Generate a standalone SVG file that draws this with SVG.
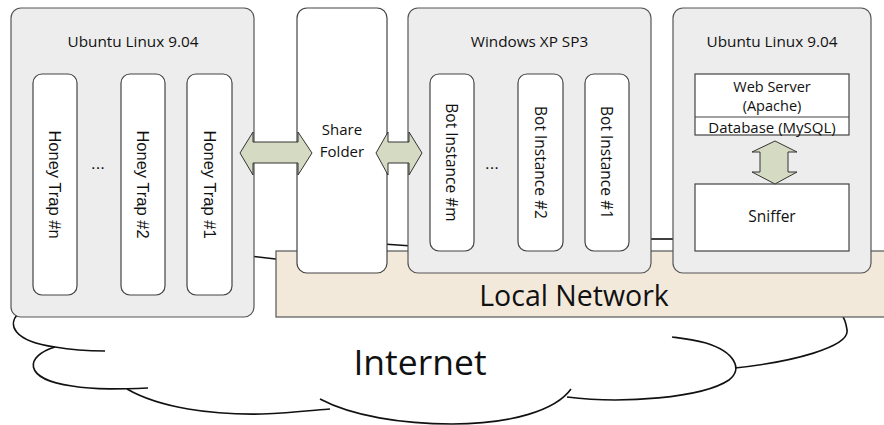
<svg xmlns="http://www.w3.org/2000/svg" width="884" height="425" viewBox="0 0 884 425">
<style>
.box{fill:#ededed;stroke:#555;stroke-width:1.2}
.pill{fill:#fff;stroke:#444;stroke-width:1.2}
.wbox{fill:#fff;stroke:#444;stroke-width:1.2}
.cloud{fill:none;stroke:#111;stroke-width:1.6}
.arrow{fill:#d5dac2;stroke:#333;stroke-width:1}
.t{font-family:"Open Sans","Noto Sans",sans-serif;fill:#111;text-anchor:middle}
.ht{font-family:"Liberation Sans",Arial,sans-serif;fill:#111;text-anchor:middle;font-size:16.5px}
.title{font-size:15.3px}
.bot{font-size:15.5px}
</style>
<rect width="884" height="425" fill="#fff"/>
<g id="internet">
<g class="cloud">
<path d="M18,314 C8,324 12,341 55,347 C72,350 90,351 105,351"/>
<path d="M55,347 C25,356 22,379 72,386 C96,390 122,389 148,388"/>
<path d="M127,389 C160,408 212,415 262,414 C292,413 316,410 330,409"/>
<path d="M320,399 C352,416 402,424 452,424 C512,424 556,410 571,389"/>
<path d="M567,397 C622,404 702,398 729,380 C743,369 735,352 706,343 C691,339 680,338 672,337"/>
<path d="M735,368 C792,362 850,347 847,330 C846,323 845,320 843,317"/>
<path d="M250,256 L280,259.5"/>
<path d="M383,244 L412,246"/>
<path d="M647,239 L677,239"/>
</g>
<text class="t" x="420" y="375" font-size="35.5">Internet</text>
</g>
<g id="local-network">
<rect x="276" y="251" width="620" height="66" fill="#f3e9db" stroke="#555" stroke-width="1.2"/>
<text class="t" x="574" y="306" font-size="28.5">Local Network</text>
</g>
<g id="ubuntu-left">
<rect class="box" x="11" y="8" width="243" height="309" rx="10"/>
<text class="t title" x="133" y="47">Ubuntu Linux 9.04</text>
<g id="honey-n">
<rect class="pill" x="33" y="74" width="44" height="221" rx="9"/>
<text class="ht" transform="translate(55,184.5) rotate(90)" dominant-baseline="central">Honey Trap #n</text>
</g>
<text class="ht" x="98" y="169" font-size="12">...</text>
<g id="honey-2">
<rect class="pill" x="121" y="74" width="44" height="221" rx="9"/>
<text class="ht" transform="translate(143,184.5) rotate(90)" dominant-baseline="central">Honey Trap #2</text>
</g>
<g id="honey-1">
<rect class="pill" x="187" y="74" width="45" height="221" rx="9"/>
<text class="ht" transform="translate(209.5,184.5) rotate(90)" dominant-baseline="central">Honey Trap #1</text>
</g>
</g>
<g id="share-folder">
<rect class="pill" x="297" y="8" width="90" height="265" rx="10"/>
<text class="t" x="342" y="135" font-size="15">Share</text>
<text class="t" x="342" y="157" font-size="15">Folder</text>
</g>
<g id="windows">
<rect class="box" x="408" y="8" width="243" height="265" rx="10"/>
<text class="t title" x="529.5" y="47">Windows XP SP3</text>
<g id="bot-m">
<rect class="pill" x="430" y="74" width="44" height="177" rx="9"/>
<text class="t bot" transform="translate(452,162.5) rotate(90)" dominant-baseline="central">Bot Instance #m</text>
</g>
<text class="ht" x="492" y="169" font-size="12">...</text>
<g id="bot-2">
<rect class="pill" x="518" y="74" width="45" height="177" rx="9"/>
<text class="t bot" transform="translate(540.5,162.5) rotate(90)" dominant-baseline="central">Bot Instance #2</text>
</g>
<g id="bot-1">
<rect class="pill" x="585" y="74" width="44" height="177" rx="9"/>
<text class="t bot" transform="translate(607,162.5) rotate(90)" dominant-baseline="central">Bot Instance #1</text>
</g>
</g>
<g id="ubuntu-right">
<rect class="box" x="673" y="8" width="198" height="265" rx="10"/>
<text class="t title" x="772" y="47">Ubuntu Linux 9.04</text>
<g id="web-server">
<rect class="wbox" x="695" y="74" width="154" height="61"/>
<line x1="695" y1="117" x2="849" y2="117" stroke="#444" stroke-width="1.2"/>
<text class="t" x="772" y="91.5" font-size="14.5">Web Server</text>
<text class="t" x="772" y="111" font-size="14.5">(Apache)</text>
<text class="t" x="772" y="133" font-size="15">Database (MySQL)</text>
</g>
<g id="sniffer">
<rect class="wbox" x="695" y="184" width="154" height="67"/>
<text class="t" x="772" y="222" font-size="15.5">Sniffer</text>
</g>
</g>
<g id="connectors">
<polygon class="arrow" points="240,153 253,132 253,142 298,142 298,132 312,153 298,175 298,163 253,163 253,175"/>
<polygon class="arrow" points="376,153 388,132 388,142 409,142 409,132 422,153 409,175 409,163 388,163 388,175"/>
<polygon class="arrow" points="775,141 797,152 788,152 788,172 797,172 775,184 752,172 760,172 760,152 752,152"/>
</g>
</svg>
